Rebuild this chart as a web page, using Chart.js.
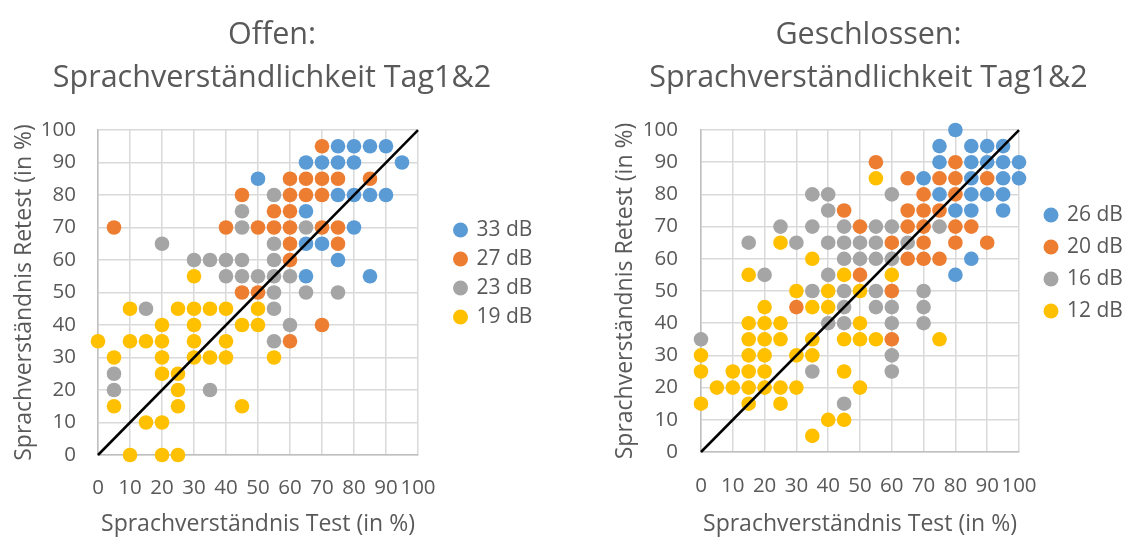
<!DOCTYPE html>
<html>
<head>
<meta charset="utf-8">
<script src="https://cdn.jsdelivr.net/npm/chart.js@4.4.1/dist/chart.umd.min.js"></script>
<style>
  html, body { margin: 0; padding: 0; background: #ffffff; width: 1127px; height: 538px; overflow: hidden; }
  .box { position: absolute; top: 0; height: 538px; }
  #leftBox { left: 0; width: 544px; }
  #rightBox { left: 610px; width: 517px; }
</style>
</head>
<body>
<div id="leftBox" class="box"><canvas id="cLeft" width="544" height="538"></canvas></div>
<div id="rightBox" class="box"><canvas id="cRight" width="517" height="538"></canvas></div>
<script>
// ---------- tick labels / axes ----------
const tickValues = [0, 10, 20, 30, 40, 50, 60, 70, 80, 90, 100];
const axisTitleX = 'Sprachverständnis Test (in %)';
const axisTitleY = 'Sprachverständnis Retest (in %)';
const diagonalX = [0, 100];
const diagonalY = [0, 100];

// ---------- left chart: Offen ----------
const titleLeft = ['Offen:', 'Sprachverständlichkeit Tag1&2'];
const labelsLeft = ['33 dB', '27 dB', '23 dB', '19 dB'];
const offen33X = [50,75,80,85,90,65,70,75,80,95,75,80,85,90,65,80,65,70,75,65,85];
const offen33Y = [85,95,95,95,95,90,90,90,90,90,80,80,80,80,75,70,65,65,60,55,55];
const offen27X = [5,45,40,50,45,50,70,60,65,70,75,85,60,65,70,55,60,55,60,70,75,60,75,60,70,60];
const offen27Y = [70,80,70,70,50,50,95,85,85,85,85,85,80,80,80,75,75,70,70,70,70,65,65,60,40,35];
const offen23X = [45,45,20,30,35,40,45,40,45,50,55,65,55,55,55,60,55,65,75,15,5,5,35,55,60,55];
const offen23Y = [75,70,65,60,60,60,60,55,55,55,80,70,65,60,55,55,50,50,50,45,25,20,20,45,40,35];
const offen19X = [30,10,25,30,35,40,50,20,30,45,50,0,10,15,20,30,40,5,20,30,35,40,20,25,25,5,25,45,15,20,10,20,25,55];
const offen19Y = [55,45,45,45,45,45,45,40,40,40,40,35,35,35,35,35,35,30,30,30,30,30,25,25,20,15,15,15,10,10,0,0,0,30];

// ---------- right chart: Geschlossen ----------
const titleRight = ['Geschlossen:', 'Sprachverständlichkeit Tag1&2'];
const labelsRight = ['26 dB', '20 dB', '16 dB', '12 dB'];
const geschl26X = [80,75,85,90,95,75,85,90,95,100,70,85,95,100,75,85,90,95,80,85,95,85,80];
const geschl26Y = [100,95,95,95,95,90,90,90,90,90,85,85,85,85,80,80,80,80,75,75,75,60,55];
const geschl20X = [55,80,65,75,80,90,70,80,45,65,70,75,50,65,70,80,85,60,70,80,90,65,70,75,50,60,30,60];
const geschl20Y = [90,90,85,85,85,85,80,80,75,75,75,75,70,70,70,70,70,65,65,65,65,60,60,60,55,50,45,35];
const geschl16X = [35,40,60,40,25,35,45,55,60,75,15,30,40,45,50,55,65,45,50,55,60,20,40,35,45,55,70,45,55,60,70,40,45,60,70,0,60,35,60,45];
const geschl16Y = [80,80,80,75,70,70,70,70,70,70,65,65,65,65,65,65,65,60,60,60,60,55,55,50,50,50,50,45,45,45,45,40,40,40,40,35,30,25,25,15];
const geschl12X = [55,25,35,15,45,60,30,40,50,20,35,40,15,20,25,50,15,20,25,35,45,50,55,75,0,15,20,30,35,0,10,15,20,45,5,10,15,20,25,30,50,0,15,25,40,45,35];
const geschl12Y = [85,65,60,55,55,55,50,50,50,45,45,45,40,40,40,40,35,35,35,35,35,35,35,35,30,30,30,30,30,25,25,25,25,25,20,20,20,20,20,20,20,15,15,15,10,10,5];

// ---------- styling ----------
const seriesColors = ['#5B9BD5', '#ED7D31', '#A5A5A5', '#FFC000'];
const FONT = '"Open Sans", Lato, sans-serif';
const TEXT = '#595959';

function pts(xs, ys) { return xs.map((x, i) => ({ x: x, y: ys[i] })); }

function makeChart(id, title, labels, series, geo) {
  const datasets = [{
    type: 'line',
    label: 'diag',
    data: pts(diagonalX, diagonalY),
    borderColor: '#000000',
    borderWidth: 2.5,
    pointRadius: 0,
    showLine: true,
    fill: false,
    clip: false
  }];
  series.forEach((s, i) => {
    datasets.push({
      label: labels[i],
      data: pts(s[0], s[1]),
      backgroundColor: seriesColors[i],
      borderColor: seriesColors[i],
      borderWidth: 0,
      pointRadius: 7.3,
      pointStyle: 'circle',
      clip: false
    });
  });

  const legendPatch = {
    id: 'legendPatch',
    beforeLayout(chart) {
      const lg = chart.legend;
      if (lg && !lg._patched) {
        const f = lg.fit;
        lg.fit = function () { f.call(this); this.width = geo.legendW; };
        lg._patched = true;
      }
    }
  };

  return new Chart(document.getElementById(id), {
    type: 'scatter',
    data: { datasets: datasets },
    plugins: [legendPatch],
    options: {
      responsive: false,
      animation: false,
      layout: { padding: 0 },
      plugins: {
        tooltip: { enabled: false },
        title: {
          display: true,
          text: title,
          color: TEXT,
          font: { family: FONT, size: 30.5, weight: 'normal', lineHeight: 1.41 },
          padding: { top: 13.5, bottom: 30.5 }
        },
        legend: {
          display: true,
          position: 'right',
          align: 'start',
          title: { display: true, text: ' ', font: { size: 1, lineHeight: 1 }, padding: { top: geo.legendTop, bottom: 0 } },
          labels: {
            filter: (item) => item.text !== 'diag',
            usePointStyle: true,
            pointStyle: 'circle',
            boxWidth: 11,
            boxHeight: 10.6,
            padding: geo.legendPad,
            color: TEXT,
            font: { family: FONT, size: 21 }
          }
        }
      },
      scales: {
        x: {
          type: 'linear',
          position: 'bottom',
          min: 0, max: 100,
          afterFit: (s) => { s.height = geo.xAxisH; },
          afterBuildTicks: (s) => { s.ticks = tickValues.map(v => ({ value: v })); },
          grid: { color: '#D9D9D9', lineWidth: 1.5, drawTicks: false },
          border: { color: '#BFBFBF', width: 1.5 },
          ticks: { color: TEXT, padding: geo.xTickPad, maxRotation: 0, autoSkip: false, font: { family: FONT, size: 20.5 } },
          title: { display: true, text: axisTitleX, color: TEXT, font: { family: FONT, size: 23 }, padding: { top: geo.xTitlePad, bottom: 0 } }
        },
        y: {
          type: 'linear',
          position: 'left',
          min: 0, max: 100,
          afterFit: (s) => { s.width = geo.yAxisW; },
          afterBuildTicks: (s) => { s.ticks = tickValues.map(v => ({ value: v })); },
          grid: { color: '#D9D9D9', lineWidth: 1.5, drawTicks: false },
          border: { color: '#BFBFBF', width: 1.5 },
          ticks: { color: TEXT, padding: geo.yTickPad, autoSkip: false, font: { family: FONT, size: 20.5 } },
          title: { display: true, text: axisTitleY, color: TEXT, font: { family: FONT, size: 23 }, padding: { top: geo.yTitlePad, bottom: 0 } }
        },
        gap: {
          type: 'linear',
          position: 'right',
          display: true,
          afterFit: (s) => { s.width = geo.gapW; },
          grid: { display: false, drawTicks: false },
          border: { display: false },
          ticks: { display: false }
        }
      }
    }
  });
}

makeChart('cLeft', titleLeft, labelsLeft,
  [[offen33X, offen33Y], [offen27X, offen27Y], [offen23X, offen23Y], [offen19X, offen19Y]],
  { legendW: 97, gapW: 29, legendPad: 8, legendTop: 210.5, xAxisH: 83, xTickPad: 20.7, xTitlePad: -0.8, yAxisW: 98, yTickPad: 22, yTitlePad: 10.2 });

makeChart('cRight', titleRight, labelsRight,
  [[geschl26X, geschl26Y], [geschl20X, geschl20Y], [geschl16X, geschl16Y], [geschl12X, geschl12Y]],
  { legendW: 92.5, gapW: 15.5, legendPad: 11, legendTop: 192.5, xAxisH: 86, xTickPad: 21.7, xTitlePad: 6.2, yAxisW: 91, yTickPad: 23, yTitlePad: 1.2 });
</script>
</body>
</html>
